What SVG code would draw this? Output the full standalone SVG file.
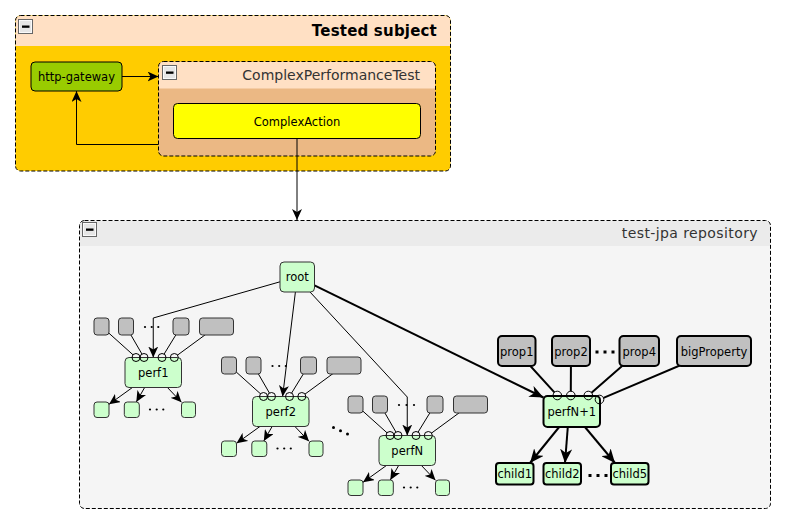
<svg xmlns="http://www.w3.org/2000/svg" width="786" height="525" viewBox="0 0 786 525">
<style>
text{font-family:"DejaVu Sans","Liberation Sans",sans-serif;fill:#000}
.lbl{font-size:11.5px;text-anchor:middle}
.title{font-size:14px;fill:#333;text-anchor:end}
.dash{fill:none;stroke:#000;stroke-width:1;stroke-dasharray:4,2}
.g{fill:#c0c0c0;stroke:#333;stroke-width:1}
.c{fill:#ccffcc;stroke:#333;stroke-width:1}
.g2{fill:#c0c0c0;stroke:#000;stroke-width:2}
.c2{fill:#ccffcc;stroke:#000;stroke-width:2}
.port{fill:none;stroke:#000;stroke-width:1}
.ln{fill:none;stroke:#000;stroke-width:1}
.ln2{fill:none;stroke:#000;stroke-width:2}
.arr{fill:none;stroke:#000;stroke-width:1;marker-end:url(#ah)}
.arr2{fill:none;stroke:#000;stroke-width:2;marker-end:url(#ah2)}
.btn{fill:#e6e6e6;stroke:#666;stroke-width:1}
</style>
<defs>
<marker id="ah" markerUnits="userSpaceOnUse" markerWidth="11" markerHeight="10" refX="11" refY="5" orient="auto" viewBox="0 0 11 10">
<path d="M0,0 L11,5 L0,10 L3,5 Z" fill="#000"/>
</marker>
<marker id="ah2" markerUnits="userSpaceOnUse" markerWidth="14" markerHeight="12" refX="14" refY="6" orient="auto" viewBox="0 0 14 12">
<path d="M0,0 L14,6 L0,12 L4,6 Z" fill="#000"/>
</marker>
<g id="minus"><rect class="btn" x="0" y="0" width="14" height="14"/><rect x="1" y="1" width="12" height="12" fill="none" stroke="#fff" stroke-width="0.8"/><rect x="3.5" y="6" width="7.5" height="2.3" fill="#000"/></g>
</defs>

<!-- containers -->
<g id="tested-subject">
<rect x="15.5" y="15.5" width="435" height="155.5" rx="5" fill="#ffcc00"/>
<path d="M16,46 V20 Q16,16 20,16 H446 Q450,16 450,20 V46 Z" fill="#ffe0c4"/>
<rect class="dash" x="15.5" y="15.5" width="435" height="155.5" rx="5"/>
<use href="#minus" x="18.5" y="19.5"/>
<text x="437" y="36" style="font-size:15px;font-weight:bold;text-anchor:end;letter-spacing:0.2px">Tested subject</text>
</g>

<g id="complex-performance-test">
<rect x="158.5" y="61.5" width="277" height="94.5" rx="5" fill="#ebb884"/>
<path d="M159,88.5 V66 Q159,62 163,62 H431 Q435,62 435,66 V88.5 Z" fill="#ffe0c4"/>
<rect class="dash" x="158.5" y="61.5" width="277" height="94.5" rx="5"/>
<use href="#minus" x="162.5" y="65.5"/>
<text class="title" x="420" y="80">ComplexPerformanceTest</text>
</g>

<g id="repository">
<rect x="79.5" y="220.5" width="691" height="288" rx="5" fill="#f5f5f5"/>
<path d="M80,246 V225 Q80,221 84,221 H766 Q770,221 770,225 V246 Z" fill="#ebebeb"/>
<rect class="dash" x="79.5" y="220.5" width="691" height="288" rx="5"/>
<use href="#minus" x="82.5" y="222.5"/>
<text class="title" x="758" y="238" style="letter-spacing:0.4px">test-jpa repository</text>
</g>

<!-- connectors -->
<g id="connectors">
<path class="arr" d="M122,76.5 L158.5,76.5"/>
<path class="arr" d="M158.5,144.5 L76.5,144.5 L76.5,91"/>
<path class="arr" d="M297,138.5 L297,220"/>
<path class="arr" d="M280,281.8 L153.25,318 L153.25,357.5"/>
<path class="arr" d="M295.4,292 L282.6,396.5"/>
<path class="arr" d="M310,292 L407.25,397 L407.25,435.5"/>
<path class="arr2" d="M314.5,285.3 L543.5,397.5"/>
<g id="perf1-links">
<path class="ln" d="M101.5,326.5 L133,354.8 M126,326.5 L141.95,354.06 M181,326.5 L164.09,354.09 M216.5,326.5 L177.51,355.11"/>
<path class="arr" d="M153.25,372.5 L109,404.35"/>
<path class="arr" d="M153.25,372.5 L136.3,402"/>
<path class="arr" d="M153.25,372.5 L181.5,402.35"/>
</g>
<g id="perf2-links" transform="translate(127.5,39)">
<path class="ln" d="M101.5,326.5 L133,354.8 M126,326.5 L141.95,354.06 M181,326.5 L164.09,354.09 M216.5,326.5 L177.51,355.11"/>
<path class="arr" d="M153.25,372.5 L109,404.35"/>
<path class="arr" d="M153.25,372.5 L136.3,402"/>
<path class="arr" d="M153.25,372.5 L181.5,402.35"/>
</g>
<g id="perfN-links" transform="translate(254,78)">
<path class="ln" d="M101.5,326.5 L133,354.8 M126,326.5 L141.95,354.06 M181,326.5 L164.09,354.09 M216.5,326.5 L177.51,355.11"/>
<path class="arr" d="M153.25,372.5 L109,404.35"/>
<path class="arr" d="M153.25,372.5 L136.3,402"/>
<path class="arr" d="M153.25,372.5 L181.5,402.35"/>
</g>
<g id="perfN1-links">
<path class="ln2" d="M516.75,351 L554.4,392.3 M571,351 L570.8,391.2 M639.25,351 L591.5,392.7 M714,351 L603.5,397.8"/>
<path class="arr2" d="M571.75,411.5 L530,463"/>
<path class="arr2" d="M569,411.5 L565,463"/>
<path class="arr2" d="M572,411.5 L615,463"/>
</g>
</g>

<!-- nodes -->
<g id="http-gateway">
<rect x="31" y="62" width="91" height="29" rx="4" fill="#99cc00" stroke="#000"/>
<text class="lbl" x="76.5" y="80.5">http-gateway</text>
</g>
<g id="complex-action">
<rect x="173.5" y="103.5" width="247" height="35" rx="4" fill="#ffff00" stroke="#000"/>
<text class="lbl" x="297" y="125.5">ComplexAction</text>
</g>
<g id="root">
<rect class="c" x="280" y="262" width="34.5" height="30" rx="4"/>
<text class="lbl" x="297.25" y="281">root</text>
</g>

<g id="perf1">
<rect class="g" x="94" y="318" width="15" height="17" rx="3"/>
<rect class="g" x="118.5" y="318" width="15" height="17" rx="3"/>
<rect class="g" x="173" y="318" width="16" height="17" rx="3"/>
<rect class="g" x="199.5" y="318" width="34" height="17" rx="3"/>
<circle cx="145" cy="327" r="1.1"/><circle cx="151.7" cy="327" r="1.1"/><circle cx="158.3" cy="327" r="1.1"/>
<rect class="c" x="125" y="357.5" width="56.5" height="30" rx="4"/>
<text class="lbl" x="153.25" y="377">perf1</text>
<circle class="port" cx="136" cy="357.5" r="4"/><circle class="port" cx="144" cy="357.5" r="4"/><circle class="port" cx="162" cy="357.5" r="4"/><circle class="port" cx="174.3" cy="357.5" r="4"/>
<rect class="c" x="94" y="402" width="15" height="15.5" rx="3"/>
<rect class="c" x="124.3" y="402" width="15" height="15.5" rx="3"/>
<rect class="c" x="181.5" y="402" width="14" height="15.5" rx="3"/>
<circle cx="150" cy="409.5" r="1.1"/><circle cx="156.7" cy="409.5" r="1.1"/><circle cx="163.3" cy="409.5" r="1.1"/>
</g>

<g id="perf2" transform="translate(127.5,39)">
<rect class="g" x="94" y="318" width="15" height="17" rx="3"/>
<rect class="g" x="118.5" y="318" width="15" height="17" rx="3"/>
<rect class="g" x="173" y="318" width="16" height="17" rx="3"/>
<rect class="g" x="199.5" y="318" width="34" height="17" rx="3"/>
<circle cx="145" cy="327" r="1.1"/><circle cx="151.7" cy="327" r="1.1"/><circle cx="158.3" cy="327" r="1.1"/>
<rect class="c" x="125" y="357.5" width="56.5" height="30" rx="4"/>
<text class="lbl" x="153.25" y="377">perf2</text>
<circle class="port" cx="136" cy="357.5" r="4"/><circle class="port" cx="144" cy="357.5" r="4"/><circle class="port" cx="162" cy="357.5" r="4"/><circle class="port" cx="174.3" cy="357.5" r="4"/>
<rect class="c" x="94" y="402" width="15" height="15.5" rx="3"/>
<rect class="c" x="124.3" y="402" width="15" height="15.5" rx="3"/>
<rect class="c" x="181.5" y="402" width="14" height="15.5" rx="3"/>
<circle cx="150" cy="409.5" r="1.1"/><circle cx="156.7" cy="409.5" r="1.1"/><circle cx="163.3" cy="409.5" r="1.1"/>
</g>

<g id="gap-dots">
<circle cx="333.5" cy="427.5" r="1.5"/><circle cx="340.5" cy="430.8" r="1.5"/><circle cx="347.5" cy="434" r="1.5"/>
</g>

<g id="perfN" transform="translate(254,78)">
<rect class="g" x="94" y="318" width="15" height="17" rx="3"/>
<rect class="g" x="118.5" y="318" width="15" height="17" rx="3"/>
<rect class="g" x="173" y="318" width="16" height="17" rx="3"/>
<rect class="g" x="199.5" y="318" width="34" height="17" rx="3"/>
<circle cx="145" cy="327" r="1.1"/><circle cx="152.5" cy="327" r="1.1"/><circle cx="160" cy="327" r="1.1"/>
<rect class="c" x="125" y="357.5" width="56.5" height="30" rx="4"/>
<text class="lbl" x="153.25" y="377">perfN</text>
<circle class="port" cx="136" cy="357.5" r="4"/><circle class="port" cx="144" cy="357.5" r="4"/><circle class="port" cx="162" cy="357.5" r="4"/><circle class="port" cx="174.3" cy="357.5" r="4"/>
<rect class="c" x="94" y="402" width="15" height="15.5" rx="3"/>
<rect class="c" x="124.3" y="402" width="15" height="15.5" rx="3"/>
<rect class="c" x="181.5" y="402" width="14" height="15.5" rx="3"/>
<circle cx="150" cy="409.5" r="1.1"/><circle cx="156.7" cy="409.5" r="1.1"/><circle cx="163.3" cy="409.5" r="1.1"/>
</g>

<g id="perfN1">
<g id="prop1"><rect class="g2" x="498" y="336" width="37.5" height="30" rx="4"/><text class="lbl" x="516.75" y="355.5">prop1</text></g>
<g id="prop2"><rect class="g2" x="552" y="336" width="38" height="30" rx="4"/><text class="lbl" x="571" y="355.5">prop2</text></g>
<rect x="595.5" y="350.5" width="3" height="3"/><rect x="603.5" y="350.5" width="3" height="3"/><rect x="611.5" y="350.5" width="3" height="3"/>
<g id="prop4"><rect class="g2" x="619.5" y="336" width="39.5" height="30" rx="4"/><text class="lbl" x="639.25" y="355.5">prop4</text></g>
<g id="bigProperty"><rect class="g2" x="677" y="336" width="74" height="30" rx="4"/><text class="lbl" x="714" y="355.5">bigProperty</text></g>
<rect class="c2" x="543.5" y="396" width="56.5" height="31" rx="4"/>
<text class="lbl" x="571.75" y="416">perfN+1</text>
<circle class="port" cx="557.3" cy="395.5" r="4.3"/><circle class="port" cx="570.8" cy="395.5" r="4.3"/><circle class="port" cx="588.3" cy="395.5" r="4.3"/><circle class="port" cx="599.5" cy="399.5" r="4.3"/>
<g id="child1"><rect class="c2" x="496" y="463" width="37.5" height="21.5" rx="3"/><text class="lbl" x="514.75" y="478">child1</text></g>
<g id="child2"><rect class="c2" x="543.5" y="463" width="37.5" height="21.5" rx="3"/><text class="lbl" x="562.25" y="478">child2</text></g>
<rect x="588.5" y="474" width="3" height="3"/><rect x="596.5" y="474" width="3" height="3"/><rect x="604.5" y="474" width="3" height="3"/>
<g id="child5"><rect class="c2" x="611" y="463" width="37.5" height="21.5" rx="3"/><text class="lbl" x="629.75" y="478">child5</text></g>
</g>
</svg>
